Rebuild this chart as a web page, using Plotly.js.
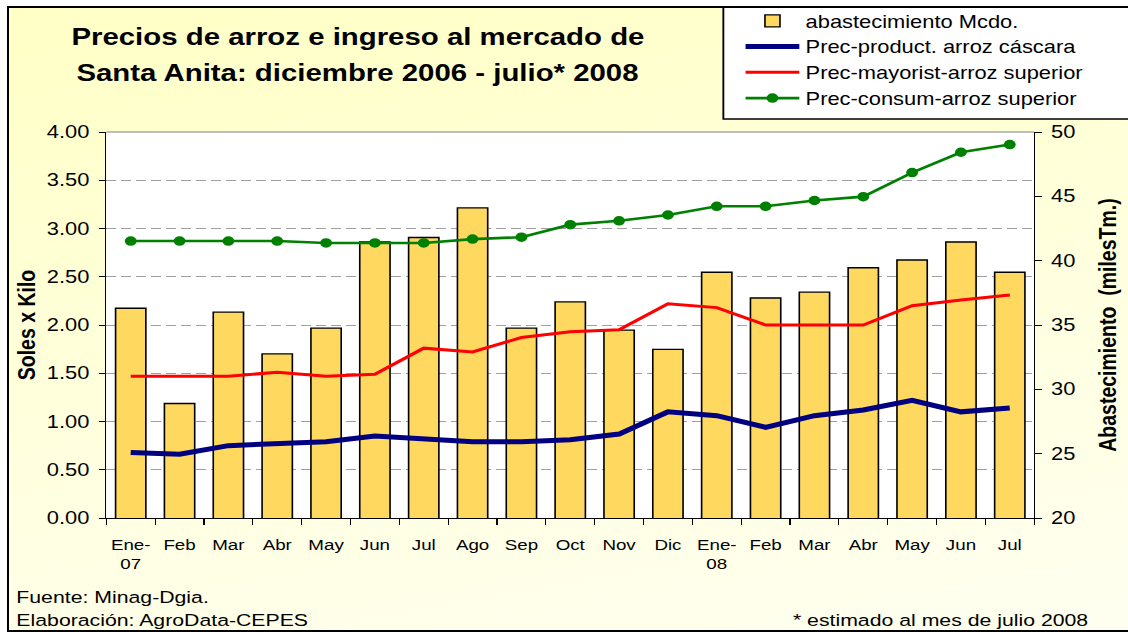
<!DOCTYPE html>
<html>
<head>
<meta charset="utf-8">
<script src="https://cdn.plot.ly/plotly-3.0.1.min.js"></script>
<style>
  html, body { margin:0; padding:0; background:#FFFFFF; width:1128px; height:632px; overflow:hidden; }
  #frame { position:absolute; left:7px; top:6px; width:1300px; height:622px; border:2px solid #000;
           overflow:hidden; background: linear-gradient(170deg, #FFFFC6 0%, #FFFFE0 55%, #FFFFF2 100%); }
  #scaler { position:absolute; left:-9px; top:-8px; width:902px; height:632px;
            transform: scaleX(1.25055); transform-origin: 0 0; }
</style>
</head>
<body>
<div id="frame"><div id="scaler"><div id="chart"></div></div></div>
<script>
// ---- data ----
const months = ['Ene-<br>07','Feb','Mar','Abr','May','Jun','Jul','Ago','Sep','Oct','Nov','Dic',
                'Ene-<br>08','Feb','Mar','Abr','May','Jun','Jul'];
// abastecimiento Mcdo. (miles Tm.) - right axis
const abastecimiento = [36.3, 28.9, 36.0, 32.75, 34.75, 41.45, 41.8, 44.1, 34.75, 36.8,
                        34.6, 33.1, 39.1, 37.1, 37.55, 39.45, 40.05, 41.45, 39.1];
// Prec-product. arroz cáscara (S/. x kilo)
const precProductor = [0.68, 0.66, 0.75, 0.77, 0.79, 0.85, 0.82, 0.79, 0.79, 0.81,
                       0.87, 1.10, 1.06, 0.94, 1.06, 1.12, 1.22, 1.10, 1.14];
// Prec-mayorist-arroz superior
const precMayorista = [1.47, 1.47, 1.47, 1.51, 1.47, 1.49, 1.76, 1.72, 1.87, 1.93,
                       1.95, 2.22, 2.18, 2.00, 2.00, 2.00, 2.20, 2.26, 2.31];
// Prec-consum-arroz superior
const precConsumidor = [2.87, 2.87, 2.87, 2.87, 2.85, 2.85, 2.85, 2.89, 2.91, 3.04,
                        3.08, 3.14, 3.23, 3.23, 3.29, 3.33, 3.58, 3.79, 3.87];

const seriesNames = ['abastecimiento Mcdo.', 'Prec-product. arroz cáscara',
                     'Prec-mayorist-arroz superior', 'Prec-consum-arroz superior'];
const titleLine1 = '<b>Precios de arroz e ingreso al mercado de</b>';
const titleLine2 = '<b>Santa Anita: diciembre 2006 - julio* 2008</b>';
const leftAxisTitle = '<b>Soles x Kilo</b>';
const rightAxisTitle = '<b>Abastecimiento\u00A0\u00A0(milesTm.)</b>';
const noteFuente = 'Fuente: Minag-Dgia.';
const noteElab = 'Elaboración: AgroData-CEPES';
const noteEstimado = '* estimado al mes de julio 2008';

const xIdx = months.map((_, i) => i);
const FONT = 'Liberation Sans, Arial, Helvetica, sans-serif';

const traces = [
  { type:'bar', name: seriesNames[0], x:xIdx, y:abastecimiento, xaxis:'x', yaxis:'y',
    width:0.62, marker:{ color:'#FFD95F', line:{ color:'#000000', width:1.3 } } },
  { type:'scatter', mode:'lines', name: seriesNames[1], x:xIdx, y:precProductor, xaxis:'x', yaxis:'y2',
    line:{ color:'#000080', width:5 } },
  { type:'scatter', mode:'lines', name: seriesNames[2], x:xIdx, y:precMayorista, xaxis:'x', yaxis:'y2',
    line:{ color:'#FF0000', width:3 } },
  { type:'scatter', mode:'lines+markers', name: seriesNames[3], x:xIdx, y:precConsumidor, xaxis:'x', yaxis:'y2',
    line:{ color:'#008000', width:2.6 }, marker:{ color:'#008000', size:9.5 } }
];

const layout = {
  width: 902, height: 632,
  margin: { l:85, r:75, t:132, b:114, pad:0, autoexpand:false },
  paper_bgcolor: 'rgba(0,0,0,0)',
  plot_bgcolor: '#FFFFFF',
  font: { family: FONT, color: '#000000', size: 15 },
  showlegend: true,
  legend: { xref:'paper', yref:'paper', x: 0.6822, y: 1.3342, xanchor:'left', yanchor:'top',
            bgcolor:'rgba(0,0,0,0)', borderwidth:0, font:{ size:17.5, family: FONT },
            itemwidth: 43, traceorder:'normal', tracegroupgap:0 },
  xaxis: {
    range: [-0.5, 18.5], tickmode:'array', tickvals: xIdx, ticktext: months, tickangle: 0,
    ticks: '', showline: true, linecolor: '#000000', linewidth: 1,
    showgrid: false, zeroline: false, tickfont: { size: 15 }, ticklabelstandoff: 13,
    minor: { tickmode:'linear', tick0: -0.5, dtick: 1, ticks: 'outside', ticklen: 6,
             tickcolor: '#000000', tickwidth: 1, showgrid: false }
  },
  yaxis: {
    range: [20, 50], tick0: 20, dtick: 5, side: 'right',
    ticks: 'outside', ticklen: 5, tickcolor: '#000000', tickwidth: 1,
    showline: true, linecolor: '#000000', linewidth: 1,
    showgrid: false, zeroline: false, tickfont: { size: 17.5 }, ticklabelstandoff: 4,
    title: { text: rightAxisTitle, font: { size: 19.5 }, standoff: 19 }
  },
  yaxis2: {
    overlaying: 'y', side: 'left',
    range: [0, 4], tick0: 0, dtick: 0.5, tickformat: '.2f',
    ticks: 'outside', ticklen: 5, tickcolor: '#000000', tickwidth: 1,
    showline: true, linecolor: '#000000', linewidth: 1,
    showgrid: true, gridcolor: '#A0A0A0', gridwidth: 1, griddash: '8px,4px',
    zeroline: false, tickfont: { size: 17.5 }, ticklabelstandoff: 4,
    title: { text: leftAxisTitle, font: { size: 19.5 }, standoff: 3 }
  },
  shapes: [
    { type:'rect', xref:'paper', yref:'paper', x0: 0.665, x1: 1.4, y0: 1.0337, y1: 1.5,
      fillcolor:'#FFFFFF', line:{ color:'#000000', width:1.5 }, layer:'above' },
    { type:'line', xref:'paper', yref:'paper', x0: 0, x1: 1, y0: 1, y1: 1,
      line:{ color:'#808080', width:1 }, layer:'above' }
  ],
  annotations: [
    { text: titleLine1, xref:'paper', yref:'paper', x: 0.2703, y: 1.2461,
      xanchor:'center', yanchor:'middle', showarrow:false, font: { size: 23.5, family: FONT } },
    { text: titleLine2, xref:'paper', yref:'paper', x: 0.2703, y: 1.1528,
      xanchor:'center', yanchor:'middle', showarrow:false, font: { size: 23.5, family: FONT } },
    { text: noteFuente, xref:'paper', yref:'paper', x: -0.0995, y: -0.205,
      xanchor:'left', yanchor:'middle', showarrow:false, font:{ size:17 } },
    { text: noteElab, xref:'paper', yref:'paper', x: -0.0995, y: -0.2645,
      xanchor:'left', yanchor:'middle', showarrow:false, font:{ size:17 } },
    { text: noteEstimado, xref:'paper', yref:'paper', x: 1.06, y: -0.2645,
      xanchor:'right', yanchor:'middle', showarrow:false, font:{ size:17 } }
  ]
};

Plotly.newPlot('chart', traces, layout, { displayModeBar:false, staticPlot:true });
</script>
</body>
</html>
